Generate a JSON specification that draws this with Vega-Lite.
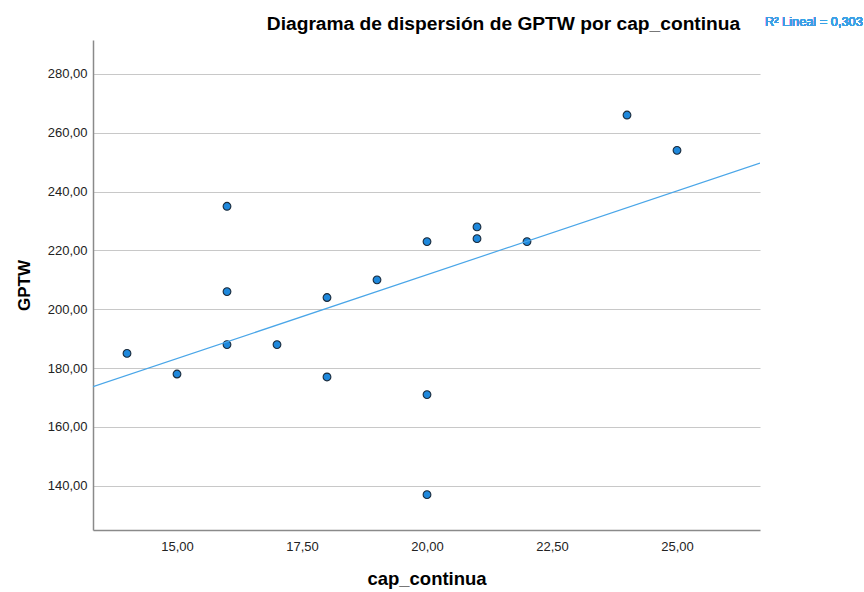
{
  "$schema": "https://vega.github.io/schema/vega-lite/v6.json",
  "autosize": "none",
  "width": 667,
  "height": 490,
  "padding": {"left": 93, "top": 40, "right": 104, "bottom": 62},
  "background": "white",
  "config": {
    "view": {"stroke": null},
    "font": "Liberation Sans",
    "axis": {"labelFont": "Liberation Sans", "titleFont": "Liberation Sans"}
  },
  "title": {
    "text": "Diagrama de dispersión de GPTW por cap_continua",
    "font": "Liberation Sans",
    "fontSize": 19.2,
    "fontWeight": "bold",
    "color": "#000000",
    "anchor": "middle",
    "dx": 77,
    "offset": -18
  },
  "data": {
    "values": [
      {"cap_continua": 14, "GPTW": 185},
      {"cap_continua": 15, "GPTW": 178},
      {"cap_continua": 16, "GPTW": 235},
      {"cap_continua": 16, "GPTW": 206},
      {"cap_continua": 16, "GPTW": 188},
      {"cap_continua": 17, "GPTW": 188},
      {"cap_continua": 18, "GPTW": 204},
      {"cap_continua": 18, "GPTW": 177},
      {"cap_continua": 19, "GPTW": 210},
      {"cap_continua": 20, "GPTW": 223},
      {"cap_continua": 20, "GPTW": 171},
      {"cap_continua": 20, "GPTW": 137},
      {"cap_continua": 21, "GPTW": 228},
      {"cap_continua": 21, "GPTW": 224},
      {"cap_continua": 22, "GPTW": 223},
      {"cap_continua": 24, "GPTW": 266},
      {"cap_continua": 25, "GPTW": 254}
    ]
  },
  "layer": [
    {
      "mark": {"type": "point", "filled": true, "size": 60, "fill": "#1e88dc", "stroke": "#1b2a3a", "strokeWidth": 1.1, "opacity": 1},
      "encoding": {
        "x": {
          "field": "cap_continua", "type": "quantitative",
          "scale": {"domain": [13.32, 26.66], "nice": false, "zero": false},
          "axis": {
            "values": [15, 17.5, 20, 22.5, 25],
            "labelExpr": "replace(format(datum.value, '.2f'), '.', ',')",
            "title": "cap_continua",
            "titleFontSize": 18.5, "titleFontWeight": "bold", "titleColor": "#000000", "titlePadding": 16,
            "labelFontSize": 13, "labelColor": "#222222", "labelPadding": 10,
            "ticks": false, "grid": false,
            "domainColor": "#8a8a8a", "domainWidth": 1.5
          }
        },
        "y": {
          "field": "GPTW", "type": "quantitative",
          "scale": {"domain": [125, 291.5], "nice": false, "zero": false},
          "axis": {
            "values": [140, 160, 180, 200, 220, 240, 260, 280],
            "labelExpr": "replace(format(datum.value, '.2f'), '.', ',')",
            "title": "GPTW",
            "titleFontSize": 17, "titleFontWeight": "bold", "titleColor": "#000000", "titlePadding": 14,
            "labelFontSize": 13, "labelColor": "#222222", "labelPadding": 6,
            "ticks": false,
            "grid": true, "gridColor": "#c8c8c8", "gridWidth": 1.2,
            "domainColor": "#8a8a8a", "domainWidth": 1.5
          }
        }
      }
    },
    {
      "transform": [
        {"regression": "GPTW", "on": "cap_continua", "extent": [13.32, 26.66]}
      ],
      "mark": {"type": "line", "color": "#4aa6e8", "strokeWidth": 1.2, "clip": true},
      "encoding": {
        "x": {"field": "cap_continua", "type": "quantitative"},
        "y": {"field": "GPTW", "type": "quantitative"}
      }
    },
    {
      "mark": {"type": "text", "text": "R² Lineal = 0,303", "align": "left", "baseline": "middle", "dx": 5, "fontSize": 12.8, "fontWeight": "normal", "color": "#3a9fe6", "font": "Liberation Sans"},
      "encoding": {
        "x": {"datum": 26.66, "type": "quantitative"},
        "y": {"datum": 297.6, "type": "quantitative"}
      }
    }
  ]
}
